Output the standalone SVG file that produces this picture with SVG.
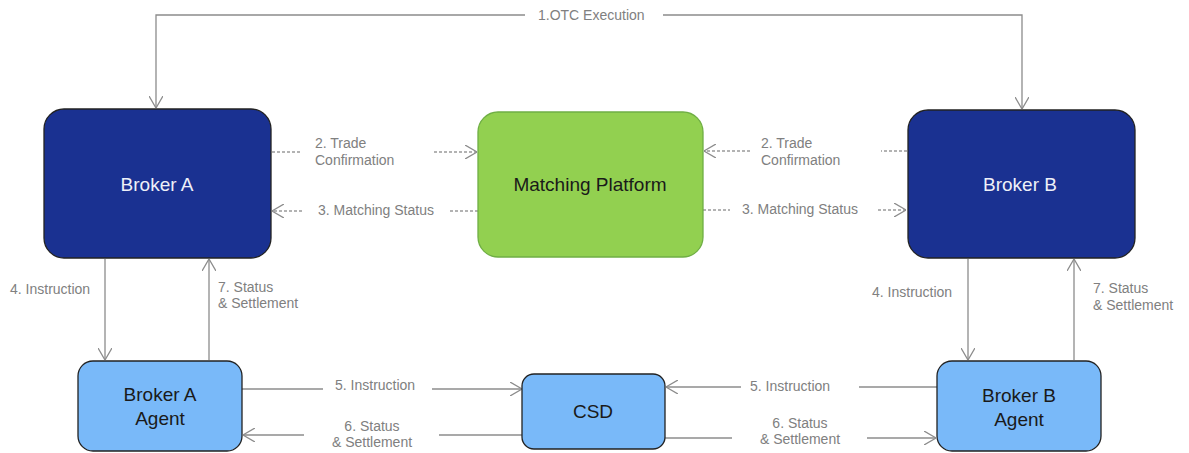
<svg xmlns="http://www.w3.org/2000/svg" width="1189" height="453" viewBox="0 0 1189 453">
<style>
.bg{fill:#ffffff}
.dark{fill:#1a3191;stroke:#222;stroke-width:1.3}
.green{fill:#92d050;stroke:#6fae44;stroke-width:1.3}
.light{fill:#79b9f9;stroke:#222;stroke-width:1.3}
.ln{fill:none;stroke:#8c8c8c;stroke-width:1.3}
.dash{fill:none;stroke:#9a9a9a;stroke-width:1.3;stroke-dasharray:3 2}
.lbl{font-family:"Liberation Sans",Arial,sans-serif;font-size:14px;fill:#808080}
.nt{font-family:"Liberation Sans",Arial,sans-serif;font-size:19px;text-anchor:middle}
.w{fill:#eef0f8}
.k{fill:#1a1a1a}
</style>
<defs>
<marker id="arr" viewBox="0 0 12 14" refX="12" refY="7" markerWidth="12" markerHeight="14" orient="auto" markerUnits="userSpaceOnUse">
<path d="M0,0 L12,7 L0,14" fill="none" stroke="#8c8c8c" stroke-width="1.3"/>
</marker>
</defs>
<rect class="bg" x="0" y="0" width="1189" height="453"/>
<g id="connectors">
<path class="ln" d="M525,15 H156 V108" marker-end="url(#arr)"/>
<path class="ln" d="M663,15 H1022 V109" marker-end="url(#arr)"/>
<path class="dash" d="M272,152 H300"/>
<path class="dash" d="M434,152 H477" marker-end="url(#arr)"/>
<path class="dash" d="M478,211 H448"/>
<path class="dash" d="M302,211 H272" marker-end="url(#arr)"/>
<path class="dash" d="M907,151 H881"/>
<path class="dash" d="M750,151 H704" marker-end="url(#arr)"/>
<path class="dash" d="M703,210 H730"/>
<path class="dash" d="M878,210 H906" marker-end="url(#arr)"/>
<path class="ln" d="M105,259 V360" marker-end="url(#arr)"/>
<path class="ln" d="M209,360 V259" marker-end="url(#arr)"/>
<path class="ln" d="M968,259 V360" marker-end="url(#arr)"/>
<path class="ln" d="M1074,360 V259" marker-end="url(#arr)"/>
<path class="ln" d="M242,389 H323"/>
<path class="ln" d="M432,389 H522" marker-end="url(#arr)"/>
<path class="ln" d="M522,435 H439"/>
<path class="ln" d="M304,435 H243" marker-end="url(#arr)"/>
<path class="ln" d="M937,387 H859"/>
<path class="ln" d="M741,387 H666" marker-end="url(#arr)"/>
<path class="ln" d="M665,438 H732"/>
<path class="ln" d="M867,438 H936" marker-end="url(#arr)"/>
<text class="lbl" x="538" y="20">1.OTC Execution</text>
<text class="lbl" x="315" y="148">2. Trade</text>
<text class="lbl" x="315" y="165">Confirmation</text>
<text class="lbl" x="318" y="215">3. Matching Status</text>
<text class="lbl" x="761" y="148">2. Trade</text>
<text class="lbl" x="761" y="165">Confirmation</text>
<text class="lbl" x="742" y="214">3. Matching Status</text>
<text class="lbl" x="10" y="294">4. Instruction</text>
<text class="lbl" x="218" y="292">7. Status</text>
<text class="lbl" x="218" y="308">&amp; Settlement</text>
<text class="lbl" x="872" y="297">4. Instruction</text>
<text class="lbl" x="1093" y="293">7. Status</text>
<text class="lbl" x="1093" y="310">&amp; Settlement</text>
<text class="lbl" x="335" y="390">5. Instruction</text>
<text class="lbl" x="372" y="431" text-anchor="middle">6. Status</text>
<text class="lbl" x="372" y="447" text-anchor="middle">&amp; Settlement</text>
<text class="lbl" x="750" y="391">5. Instruction</text>
<text class="lbl" x="800" y="428" text-anchor="middle">6. Status</text>
<text class="lbl" x="800" y="444" text-anchor="middle">&amp; Settlement</text>
</g>
<g id="broker-a">
<rect class="dark" x="44" y="109" width="227" height="149" rx="20"/>
<text class="nt w" x="157" y="191">Broker A</text>
</g>
<g id="matching-platform">
<rect class="green" x="478" y="112" width="225" height="145" rx="20"/>
<text class="nt k" x="590" y="191">Matching Platform</text>
</g>
<g id="broker-b">
<rect class="dark" x="908" y="110" width="227" height="148" rx="20"/>
<text class="nt w" x="1020" y="191">Broker B</text>
</g>
<g id="broker-a-agent">
<rect class="light" x="78" y="361" width="164" height="90" rx="15"/>
<text class="nt k" x="160" y="401">Broker A</text>
<text class="nt k" x="160" y="425">Agent</text>
</g>
<g id="csd">
<rect class="light" x="522" y="374" width="143" height="75" rx="12"/>
<text class="nt k" x="593" y="418">CSD</text>
</g>
<g id="broker-b-agent">
<rect class="light" x="937" y="361" width="164" height="90" rx="15"/>
<text class="nt k" x="1019" y="402">Broker B</text>
<text class="nt k" x="1019" y="426">Agent</text>
</g>
</svg>
